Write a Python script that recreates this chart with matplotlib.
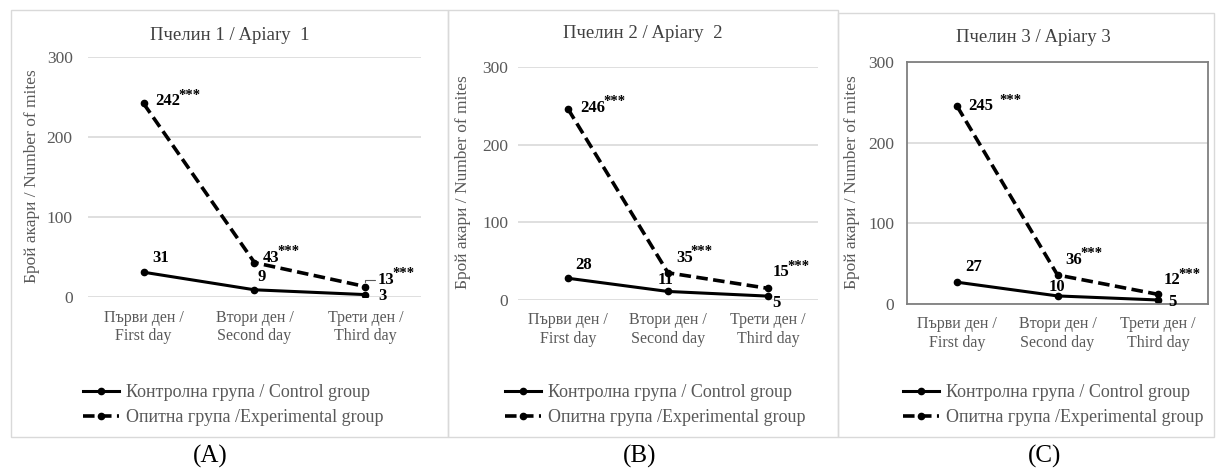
import matplotlib.pyplot as plt
from matplotlib.patches import Rectangle

plt.rcParams['font.family'] = ['Liberation Serif', 'DejaVu Serif']

days = ['Първи ден /\nFirst day', 'Втори ден /\nSecond day', 'Трети ден /\nThird day']
titles = ['Пчелин 1 / Apiary  1', 'Пчелин 2 / Apiary  2', 'Пчелин 3 / Apiary 3']
panel_tags = ['(A)', '(B)', '(C)']

control_a = [31, 9, 3]
control_b = [28, 11, 5]
control_c = [27, 10, 5]
exper_a = [242, 43, 13]
exper_b = [246, 35, 15]
exper_c = [245, 36, 12]

stars = '***'

GRAY = '#595959'
GRID = '#d9d9d9'

fig = plt.figure(figsize=(12.17, 4.73), dpi=100)
W, H = 1217, 473


def fx(px):
    return px / W


def fy(py):
    return 1 - py / H


# panel frames in pixels (left, top, right, bottom)
frames = [(11, 10, 448, 437), (448, 10, 838, 437), (838, 13, 1214, 437)]
for l, t, r, b in frames:
    fig.add_artist(Rectangle((fx(l), fy(b)), fx(r - l), fy(t) - fy(b),
                             transform=fig.transFigure, fill=False,
                             edgecolor=GRID, linewidth=1.0))

# plot areas (left, top, right, zero line)
boxes = [(88, 57, 421, 297), (518, 67, 818, 300), (907, 62, 1208, 304)]

# label offsets in pixels (dx, dy)
ctrl_off = [
    [(17, 14), (7, 13), (17, -1)],
    [(16, 13), (-2, 11), (8, -7)],
    [(16, 15), (-1, 9), (15, -2)],
]
exp_off = [
    [(12, 2), (8, 5), (12, 7)],
    [(12, 1), (8, 15), (5, 16)],
    [(11, 0), (8, 15), (6, 14)],
]
ytick_pad = [11, 7, 9]

controls = [control_a, control_b, control_c]
expers = [exper_a, exper_b, exper_c]
ylab_x = [32, 463, 852]
title_pos = [(230, 35), (643, 33), (1033, 38)]
legend_x = [83, 505, 903]
tag_x = [210, 640, 1045]

FS = 12
digit_px = 0.5 * FS * 100 / 72

for i in range(3):
    l, t, r, b = boxes[i]
    ax = fig.add_axes([fx(l), fy(b), fx(r - l), fy(t) - fy(b)])
    x = range(len(days))
    ctrl, = ax.plot(x, controls[i], color='black', linewidth=2.2,
                    marker='o', markersize=4.5, label='Контролна група / Control group')
    exp, = ax.plot(x, expers[i], color='black', linewidth=2.6, linestyle=(0, (3.2, 1.5)),
                   marker='o', markersize=4.5, label='Опитна група /Experimental group')
    ax.set_xlim(-0.5, 2.5)
    ax.set_ylim(0, 300)
    ax.set_yticks([0, 100, 200, 300])
    ax.set_xticks(list(x))
    ax.set_xticklabels(days, fontsize=11.5, color=GRAY, linespacing=1.2)
    ax.tick_params(axis='y', labelsize=12.5, labelcolor=GRAY, length=0, pad=ytick_pad[i])
    ax.tick_params(axis='x', length=0, pad=9)
    ax.grid(axis='y', color=GRID, linewidth=1.2)
    ax.set_axisbelow(True)
    for s in ax.spines.values():
        s.set_visible(i == 2)
        s.set_color('#7f7f7f')
        s.set_linewidth(1.3)

    for k in range(3):
        dx, dy = ctrl_off[i][k]
        ax.annotate(str(controls[i][k]), (k, controls[i][k]), xytext=(dx, dy),
                    textcoords='offset pixels', ha='center', va='center',
                    fontsize=FS, fontweight='bold', color='black')
        dx, dy = exp_off[i][k]
        label = str(expers[i][k])
        leader = None
        if i == 0 and k == 2:
            leader = dict(arrowstyle='-', color=GRAY, lw=0.8, shrinkA=0, shrinkB=3,
                          connectionstyle='angle,angleA=0,angleB=90,rad=0',
                          relpos=(0, 0.5))
        ax.annotate(label, (k, expers[i][k]), xytext=(dx, dy),
                    textcoords='offset pixels', ha='left', va='center',
                    fontsize=FS, fontweight='bold', color='black', arrowprops=leader)
        gap = 6 if (i == 2 and k == 0) else -2
        ax.annotate(stars, (k, expers[i][k]),
                    xytext=(dx + digit_px * len(label) + gap, dy + 6),
                    textcoords='offset pixels', ha='left', va='center',
                    fontsize=10.5, fontweight='bold', color='black')

    fig.text(fx(ylab_x[i]), fy((t + b) / 2 - 1), 'Брой акари / Number of mites',
             rotation=90, ha='center', va='center', fontsize=12.5, color=GRAY)
    tx, ty = title_pos[i]
    fig.text(fx(tx), fy(ty), titles[i], ha='center', va='center', fontsize=13.5,
             color='#404040')

    fig.legend(handles=[ctrl, exp], loc='center left',
               bbox_to_anchor=(fx(legend_x[i]), fy(405)), frameon=False,
               fontsize=13, handlelength=2.0, handletextpad=0.4, labelspacing=0.45,
               labelcolor=GRAY, borderaxespad=0, borderpad=0)
    fig.text(fx(tag_x[i]), fy(456), panel_tags[i], ha='center', va='center',
             fontsize=18, color='black')

fig.savefig('out.png', dpi=100, facecolor='white')
